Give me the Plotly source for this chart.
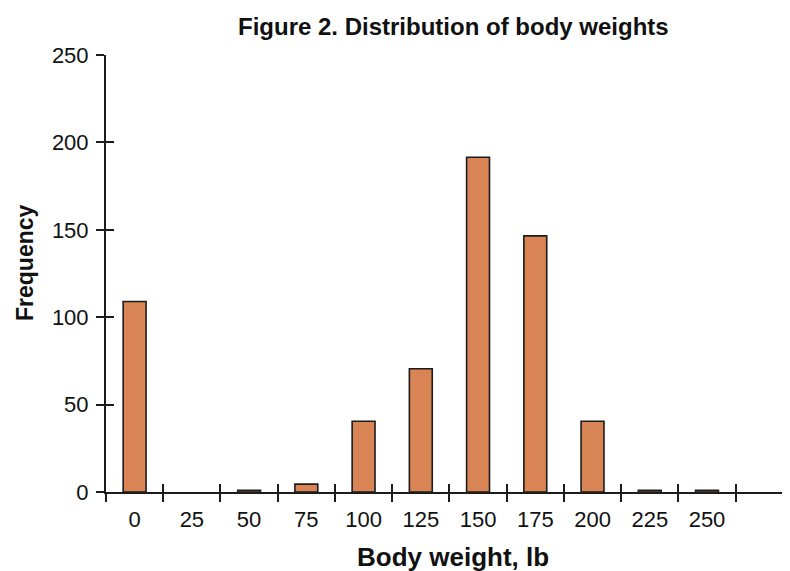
import plotly.graph_objects as go

categories = ["0", "25", "50", "75", "100", "125", "150", "175", "200", "225", "250"]
frequency = [109, 0, 1, 4.5, 40.5, 70.5, 191.5, 146.5, 40.5, 1, 1]
y_ticks = [0, 50, 100, 150, 200, 250]

BAR = "#D98455"
INK = "#1c1c1c"
FONT = "Liberation Sans, Arial, sans-serif"

# plot area in screen pixels (page has an 8px body margin)
PX0, PX1, PY0, PY1 = 106, 790, 55, 492
PW, PH = PX1 - PX0, PY1 - PY0


def px(x):
    return (x - PX0) / PW


def py(y):
    return (PY1 - y) / PH


# empty bins get no outline
outline_widths = [0 if v == 0 else 1.6 for v in frequency]

fig = go.Figure()
fig.add_trace(go.Bar(
    x=categories, y=frequency, width=0.4,
    marker=dict(color=BAR, line=dict(color=INK, width=outline_widths)),
    hoverinfo="x+y", showlegend=False,
))
# invisible helper trace to drive the overlay axes (ticks crossing the axis line)
fig.add_trace(go.Scatter(
    x=categories, y=frequency, xaxis="x2", yaxis="y2", mode="markers",
    marker=dict(opacity=0), hoverinfo="skip", showlegend=False,
))

xr = [-0.5, 11.45]
yr = [0, 250]
common_x = dict(type="category", categoryorder="array", categoryarray=categories,
                range=xr, tickson="boundaries", ticklen=8, tickwidth=2, tickcolor=INK,
                showline=True, linecolor=INK, linewidth=2, showgrid=False, zeroline=False)
common_y = dict(range=yr, tickvals=y_ticks, ticklen=8, tickwidth=2, tickcolor=INK,
                showline=True, linecolor=INK, linewidth=2, showgrid=False, zeroline=False)

fig.update_layout(
    width=782, height=563,
    margin=dict(l=PX0 - 8, r=0, t=PY0 - 8, b=571 - PY1),
    paper_bgcolor="white", plot_bgcolor="white",
    font=dict(family=FONT, size=22, color="#111"),
    xaxis=dict(**common_x, ticks="outside", ticklabelstandoff=7,
               tickfont=dict(size=22, family=FONT, color="#111")),
    yaxis=dict(**common_y, ticks="outside", ticklabelstandoff=3,
               tickfont=dict(size=22, family=FONT, color="#111")),
    xaxis2=dict(**common_x, ticks="inside", overlaying="x", showticklabels=False),
    yaxis2=dict(**common_y, ticks="inside", overlaying="y", showticklabels=False),
    annotations=[
        dict(text="<b>Figure 2. Distribution of body weights</b>", x=px(453), y=py(26),
             xref="paper", yref="paper", xanchor="center", yanchor="middle",
             showarrow=False, font=dict(size=24, family=FONT, color="#111")),
        dict(text="<b>Frequency</b>", x=px(25), y=py(263),
             xref="paper", yref="paper", xanchor="center", yanchor="middle", textangle=-90,
             showarrow=False, font=dict(size=23, family=FONT, color="#111")),
        dict(text="<b>Body weight, lb</b>", x=px(453), y=py(557),
             xref="paper", yref="paper", xanchor="center", yanchor="middle",
             showarrow=False, font=dict(size=26, family=FONT, color="#111")),
    ],
)

fig.write_html("out.html")
